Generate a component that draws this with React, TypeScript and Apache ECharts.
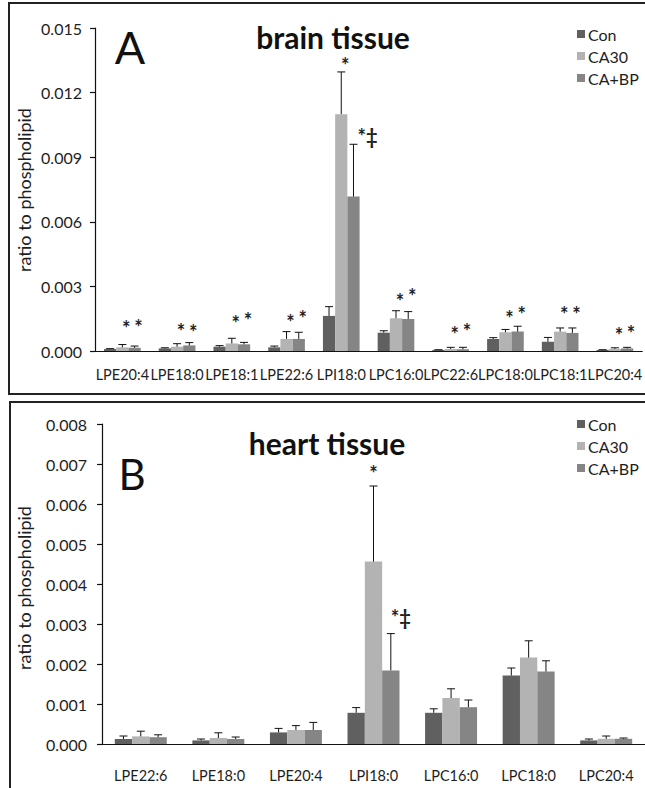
import React, { useEffect, useRef } from "react";
import * as echarts from "echarts";

const seriesNames = ["Con", "CA30", "CA+BP"];
const seriesColors = ["#606060", "#b3b3b3", "#858585"];

// Panel A: brain tissue
const catsA = ["LPE20:4", "LPE18:0", "LPE18:1", "LPE22:6", "LPI18:0", "LPC16:0", "LPC22:6", "LPC18:0", "LPC18:1", "LPC20:4"];
const conA = [0.00009, 0.00012, 0.0002, 0.00017, 0.00163, 0.00085, 0.00005, 0.00056, 0.00043, 0.00005];
const conSdA = [0.00002, 0.00003, 0.00005, 0.00006, 0.00043, 0.00009, 0.00001, 0.00006, 0.0002, 0.00001];
const ca30A = [0.00017, 0.0002, 0.00035, 0.00056, 0.011, 0.00152, 0.00009, 0.00087, 0.0009, 0.0001];
const ca30SdA = [0.00013, 0.00014, 0.00024, 0.00034, 0.00196, 0.00035, 0.00008, 0.00013, 0.00017, 0.00005];
const cabpA = [0.00015, 0.00026, 0.00031, 0.00056, 0.00717, 0.00149, 0.00008, 0.0009, 0.00084, 0.00012];
const cabpSdA = [0.00008, 0.00013, 0.00009, 0.00031, 0.00243, 0.00034, 0.00009, 0.00025, 0.00023, 0.00005];
// annotations: [category index, series index, value level, text]
const notesA: [number, number, number, string][] = [
  [0, 1, 0.0013, "*"], [0, 2, 0.00135, "*"],
  [1, 1, 0.00116, "*"], [1, 2, 0.00111, "*"],
  [2, 1, 0.00153, "*"], [2, 2, 0.00167, "*"],
  [3, 1, 0.00159, "*"], [3, 2, 0.00176, "*"],
  [4, 1, 0.01351, "*"], [4, 2, 0.0102, "*‡"],
  [5, 1, 0.00255, "*"], [5, 2, 0.0028, "*"],
  [6, 1, 0.00102, "*"], [6, 2, 0.00116, "*"],
  [7, 1, 0.00176, "*"], [7, 2, 0.00195, "*"],
  [8, 1, 0.00195, "*"], [8, 2, 0.00195, "*"],
  [9, 1, 0.00098, "*"], [9, 2, 0.00107, "*"],
];
const yMaxA = 0.015;
const yStepA = 0.003;

// Panel B: heart tissue
const catsB = ["LPE22:6", "LPE18:0", "LPE20:4", "LPI18:0", "LPC16:0", "LPC18:0", "LPC20:4"];
const conB = [0.000125, 0.00009, 0.00029, 0.00078, 0.00078, 0.00171, 0.00009];
const conSdB = [0.000075, 0.000035, 0.0001, 0.00013, 0.0001, 0.00019, 0.000035];
const ca30B = [0.00019, 0.00015, 0.00035, 0.00456, 0.00115, 0.00216, 0.00013];
const ca30SdB = [0.00013, 0.00013, 0.00011, 0.00189, 0.00023, 0.00042, 0.00007];
const cabpB = [0.00017, 0.000125, 0.00035, 0.00184, 0.00092, 0.00181, 0.00013];
const cabpSdB = [0.00006, 0.00005, 0.00019, 0.00092, 0.00018, 0.00027, 0.00002];
const notesB: [number, number, number, string][] = [
  [3, 1, 0.0069, "*"], [3, 2, 0.00331, "*‡"],
];
const yMaxB = 0.008;
const yStepB = 0.001;

const FONT = "Lato, 'Open Sans', sans-serif";
const TXT = "#1e1e1e";
const CAT_GAP = 0.33;

function buildPanel(
  idx: number,
  means: number[][],
  sds: number[][],
  notes: [number, number, number, string][],
  noteDx: number
) {
  const out: any[] = [];
  means.forEach((m, s) => {
    out.push({
      type: "bar",
      name: seriesNames[s],
      xAxisIndex: idx,
      yAxisIndex: idx,
      data: m,
      barGap: "0%",
      barCategoryGap: CAT_GAP * 100 + "%",
      itemStyle: { color: seriesColors[s] },
      z: 2,
    });
  });
  means.forEach((m, s) => {
    out.push({
      type: "custom",
      name: seriesNames[s] + "-err" + idx,
      xAxisIndex: idx,
      yAxisIndex: idx,
      data: m.map((v, i) => [i, v, v + sds[s][i]]),
      z: 3,
      silent: true,
      itemStyle: { color: "#111" },
      renderItem: (params: any, api: any) => {
        const cat = api.value(0);
        const mean = api.value(1);
        const top = api.value(2);
        const catW = api.size([1, 0])[0];
        const bw = (catW * (1 - CAT_GAP)) / 3;
        const p0 = api.coord([cat, mean]);
        const p1 = api.coord([cat, top]);
        const x = p0[0] + (s - 1) * bw;
        return {
          type: "group",
          children: [
            { type: "line", shape: { x1: x, y1: p0[1], x2: x, y2: p1[1] }, style: { stroke: "#111", lineWidth: 1 } },
            { type: "line", shape: { x1: x - 4, y1: p1[1], x2: x + 4, y2: p1[1] }, style: { stroke: "#111", lineWidth: 1 } },
          ],
        };
      },
    });
  });
  out.push({
    type: "custom",
    name: "notes" + idx,
    xAxisIndex: idx,
    yAxisIndex: idx,
    data: notes.map((n) => [n[0], n[2], n[1]]),
    z: 4,
    silent: true,
    itemStyle: { color: TXT },
    renderItem: (params: any, api: any) => {
      const cat = api.value(0);
      const val = api.value(1);
      const s = api.value(2);
      const catW = api.size([1, 0])[0];
      const bw = (catW * (1 - CAT_GAP)) / 3;
      const p = api.coord([cat, val]);
      const txt = notes[params.dataIndex][3];
      return {
        type: "text",
        x: p[0] + (s - 1) * bw + noteDx,
        y: p[1] + 5,
        style: {
          text: txt,
          fontSize: 20,
          fontWeight: "bold",
          fontFamily: FONT,
          fill: "#222",
          align: txt.length > 1 ? "left" : "center",
          verticalAlign: "middle",
        },
      };
    },
  });
  return out;
}

export default function App() {
  const ref = useRef<HTMLDivElement>(null);
  useEffect(() => {
    document.body.style.margin = "0";
    const chart = echarts.init(ref.current!, undefined, { renderer: "svg" });
    const axisLabel = (margin: number, size: number) => ({
      fontSize: size,
      fontFamily: FONT,
      color: TXT,
      margin,
    });
    const xAxisBase = (gridIndex: number, data: string[], margin: number) => ({
      type: "category",
      gridIndex,
      data,
      axisLine: { lineStyle: { color: "#111", width: 1.2 } },
      axisTick: { length: 5, lineStyle: { color: "#111", width: 1.2 } },
      axisLabel: { ...axisLabel(margin, 14.5), interval: 0 },
    });
    const yAxisBase = (gridIndex: number, max: number, step: number, margin: number) => ({
      type: "value",
      gridIndex,
      min: 0,
      max,
      interval: step,
      axisLine: { show: true, lineStyle: { color: "#111", width: 1.2 } },
      axisTick: { show: true, length: 5, lineStyle: { color: "#111", width: 1.2 } },
      splitLine: { show: false },
      axisLabel: { ...axisLabel(margin, 16), formatter: (v: number) => v.toFixed(3) },
    });
    const legendBase = (top: number) => ({
      data: seriesNames,
      orient: "vertical",
      left: 572,
      top,
      icon: "rect",
      itemWidth: 8,
      itemHeight: 8,
      itemGap: 6,
      selectedMode: false,
      textStyle: { fontSize: 16, fontFamily: FONT, color: TXT, padding: [0, 0, 0, -2] },
    });
    const option: any = {
      animation: false,
      grid: [
        { left: 95, top: 28, width: 552, height: 323 },
        { left: 102, top: 424, width: 546, height: 320 },
      ],
      xAxis: [xAxisBase(0, catsA, 16), xAxisBase(1, catsB, 24)],
      yAxis: [yAxisBase(0, yMaxA, yStepA, 13), yAxisBase(1, yMaxB, yStepB, 15)],
      legend: [legendBase(21), legendBase(411)],
      series: [
        ...buildPanel(0, [conA, ca30A, cabpA], [conSdA, ca30SdA, cabpSdA], notesA, 4),
        ...buildPanel(1, [conB, ca30B, cabpB], [conSdB, ca30SdB, cabpSdB], notesB, 0),
      ],
      graphic: [
        { type: "rect", shape: { x: 9, y: 3, width: 660, height: 391 }, style: { fill: "none", stroke: "#222", lineWidth: 2 }, silent: true },
        { type: "rect", shape: { x: 10, y: 402, width: 660, height: 420 }, style: { fill: "none", stroke: "#222", lineWidth: 2 }, silent: true },
        { type: "text", x: 333, y: 37, style: { text: "brain tissue", fontSize: 30, fontWeight: "bold", fontFamily: FONT, fill: "#111", align: "center", verticalAlign: "middle" } },
        { type: "text", x: 130, y: 47, style: { text: "A", fontSize: 45, fontFamily: FONT, fill: "#111", align: "center", verticalAlign: "middle" } },
        { type: "text", x: 327, y: 443, style: { text: "heart tissue", fontSize: 30, fontWeight: "bold", fontFamily: FONT, fill: "#111", align: "center", verticalAlign: "middle" } },
        { type: "text", x: 132, y: 474, style: { text: "B", fontSize: 42, fontFamily: FONT, fill: "#111", align: "center", verticalAlign: "middle" } },
        { type: "text", x: 24, y: 190, rotation: Math.PI / 2, style: { text: "ratio to phospholipid", fontSize: 18, fontFamily: FONT, fill: TXT, align: "center", verticalAlign: "middle" } },
        { type: "text", x: 24, y: 588, rotation: Math.PI / 2, style: { text: "ratio to phospholipid", fontSize: 18, fontFamily: FONT, fill: TXT, align: "center", verticalAlign: "middle" } },
      ],
    };
    chart.setOption(option);
    return () => chart.dispose();
  }, []);
  return <div ref={ref} style={{ width: 645, height: 788 }} />;
}
